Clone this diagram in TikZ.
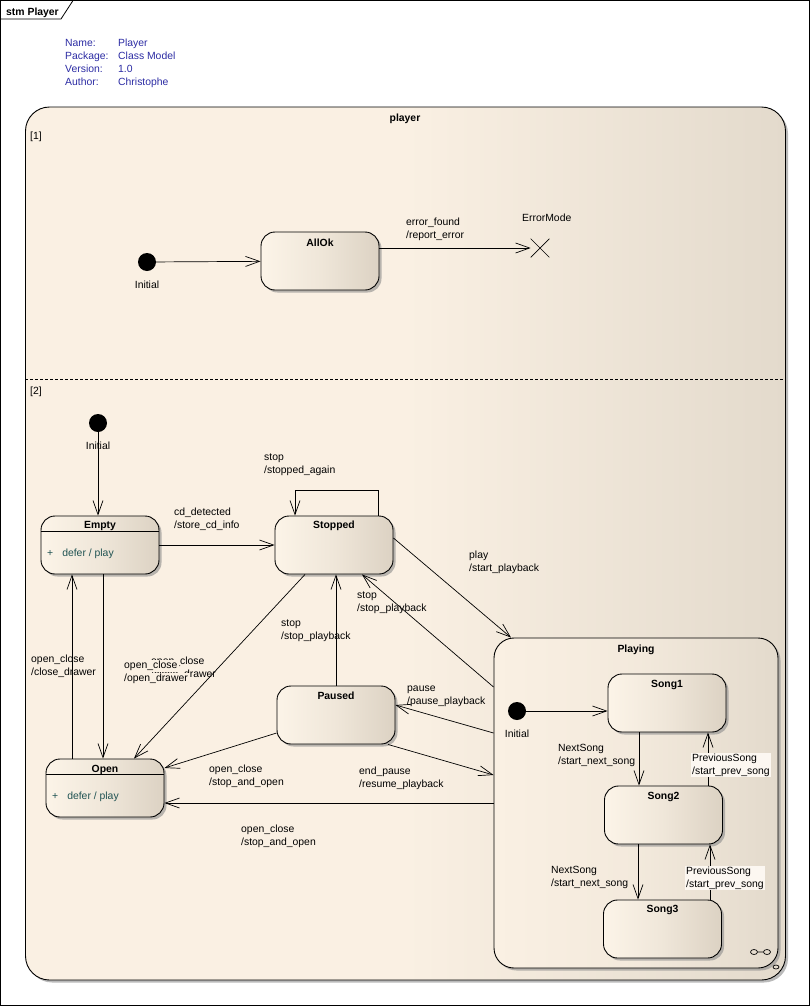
\documentclass[tikz,border=0pt]{standalone}
\usepackage{fontspec}
\setmainfont{Liberation Sans}
\usetikzlibrary{arrows.meta,shadows,shapes.misc}
\definecolor{bgL}{HTML}{FAF0E3}
\definecolor{bgR}{HTML}{E3DACC}
\definecolor{stL}{HTML}{FCF4E8}
\definecolor{stR}{HTML}{DCD2C3}
\definecolor{infoblue}{HTML}{2B2BA3}
\definecolor{deferc}{HTML}{1F5252}
\definecolor{lblbg}{HTML}{FCF7F1}
\setlength{\fboxsep}{1pt}

\begin{document}
\begin{tikzpicture}[x=1pt,y=-1pt,
    every node/.style={font=\fontsize{10.4}{13}\selectfont, inner sep=0pt},
    txt/.style={yshift=-1.5pt},
    shade/.style={drop shadow={shadow xshift=2.5pt, shadow yshift=-2.5pt, fill=black!45, opacity=.6}},
    state/.style={draw, line width=0.9pt, rounded corners=14pt, minimum width=118pt, minimum height=58pt,
      left color=stL, right color=stR, middle color=stL!60!stR, shade},
    title/.style={txt, font=\fontsize{10.4}{13}\selectfont\bfseries},
    lbl/.style={txt, align=left, anchor=west},
    init/.style={circle, fill=black, minimum size=18pt},
    tr/.style={line width=0.7pt, -{Straight Barb[length=14pt,width=10pt]}}]
  \useasboundingbox (0,0) rectangle (811,1007);
  \draw[line width=0.8pt] (0.5,0.5) rectangle (809.5,1005.5);
  \draw[line width=0.8pt] (0.5,19) -- (61,19) -- (73,0.5);
  \node[anchor=west, title] (frameT) at (6,11) {stm Player};
  \node[txt, anchor=north west, align=left, text=infoblue] (infoK) at (65,37.5) {Name:\\Package:\\Version:\\Author:};
  \node[txt, anchor=north west, align=left, text=infoblue] (infoV) at (118,37.5) {Player\\Class Model\\1.0\\Christophe};

  \node[draw, line width=0.9pt, rounded corners=24pt, minimum width=760pt, minimum height=873pt,
    left color=bgL, right color=bgR, middle color=bgL, shade] (player) at (405.5,543.5) {};
  \node[title] (playerT) at (405,117) {player};
  \node[txt, anchor=west] (reg1) at (30,135) {[1]};
  \node[txt, anchor=west] (reg2) at (30,390) {[2]};
  \draw[line width=0.7pt, dash pattern=on 3pt off 2pt] (player.west |- 0,379) -- (player.east |- 0,379);

  \node[init] (init1) at (147,262) {};
  \node[txt] (init1L) at (147,283) {Initial};
  \node[state] (allok) at (320,261) {};
  \node[title] (allokT) at (320,241) {AllOk};
  \node[cross out, draw, line width=0.7pt, minimum size=18pt] (err) at (540,248) {};
  \node[txt, anchor=west] (errL) at (522,216) {ErrorMode};
  \draw[tr] (init1) -- (allok);
  \draw[tr] (allok.east |- err) -- (err.west);
  \node[lbl] (errT) at (406,228) {error\_found\\/report\_error};

  \node[init] (init2) at (98,423) {};
  \node[txt] (init2L) at (98,444) {Initial};
  \node[state] (empty) at (100,545) {};
  \node[title] (emptyT) at (100,524) {Empty};
  \draw[line width=0.9pt] (empty.north west) ++(0,16) -- ++(118,0);
  \node[txt, anchor=west, text=deferc] (emptyA) at (47,552) {+\hspace{9pt}defer / play};
  \node[state] (stopped) at (334,545) {};
  \node[title] (stoppedT) at (334,524) {Stopped};
  \node[state] (open) at (105,788) {};
  \node[title] (openT) at (105,768) {Open};
  \draw[line width=0.9pt] (open.north west) ++(0,16) -- ++(118,0);
  \node[txt, anchor=west, text=deferc] (openA) at (52,795) {+\hspace{9pt}defer / play};
  \node[state] (paused) at (336,715) {};
  \node[title] (pausedT) at (336,694) {Paused};

  \node[draw, line width=0.9pt, rounded corners=20pt, minimum width=284pt, minimum height=330pt,
    left color=bgL, right color=bgR, middle color=bgL!70!bgR, shade] (playing) at (636,803) {};
  \node[title] (playingT) at (636,648) {Playing};
  \node[init] (init3) at (517,711) {};
  \node[txt] (init3L) at (517,732) {Initial};
  \node[state] (song1) at (667,703) {};
  \node[title] (song1T) at (667,683) {Song1};
  \node[state] (song2) at (663.5,815) {};
  \node[title] (song2T) at (663.5,795) {Song2};
  \node[state] (song3) at (662.5,929) {};
  \node[title] (song3T) at (662.5,908) {Song3};
  \draw[line width=0.7pt] (754,952) ellipse (3.5pt and 2.5pt) (767,952) ellipse (3.5pt and 2.5pt) (757.5,952) -- (763.5,952);
  \draw[line width=0.7pt] (776,967) ellipse (3pt and 2pt);

  \draw[tr] (init2) -- (init2 |- empty.north);
  \draw[tr] (empty) -- (stopped);
  \draw[tr] ([xshift=44pt]stopped.north) -- ++(0,-25) -| ([xshift=-39pt]stopped.north);
  \draw[tr] ([xshift=3pt]empty.south) -- ([xshift=3pt]empty.south |- open.north);
  \draw[tr] ([xshift=-33pt]open.north) -- ([xshift=-33pt]open.north |- empty.south);
  \draw[tr] ([xshift=-29pt]stopped.south) -- ([xshift=29pt]open.north);
  \draw[tr] (paused.north) -- (paused.north |- stopped.south);
  \draw[tr] ([yshift=-18pt]paused.west) -- ([yshift=20pt]open.east);
  \draw[tr] ([xshift=52pt]paused.south) -- ([yshift=28pt]playing.west);
  \draw[tr] ([yshift=70pt]playing.west) -- ([yshift=10pt]paused.east);
  \draw[tr] ([yshift=7pt]stopped.east) -- ([xshift=-125pt]playing.north);
  \draw[tr] ([yshift=116pt]playing.west) -- ([xshift=28pt]stopped.south);
  \draw[tr] (playing.west) -- (open.east |- playing.west);
  \draw[tr] (init3) -- (init3 -| song1.west);
  \draw[tr] ([xshift=-28pt]song1.south) -- ([xshift=-28pt]song1.south |- song2.north);
  \draw[tr] ([xshift=44.5pt]song2.north) -- ([xshift=44.5pt]song2.north |- song1.south);
  \draw[tr] ([xshift=-25.5pt]song2.south) -- ([xshift=-25.5pt]song2.south |- song3.north);
  \draw[tr] ([xshift=47.5pt]song3.north) -- ([xshift=47.5pt]song3.north |- song2.south);

  \node[lbl] (loopT) at (264,463.5) {stop\\/stopped\_again};
  \node[lbl] (cdT) at (174,517.5) {cd\_detected\\/store\_cd\_info};
  \node[lbl] (playT) at (469,560.5) {play\\/start\_playback};
  \node[lbl] (stop1T) at (357,601.5) {stop\\/stop\_playback};
  \node[lbl] (stop2T) at (281,629.5) {stop\\/stop\_playback};
  \node[lbl] (closeT) at (31,665) {open\_close\\/close\_drawer};
  \node[lbl] (hidT) at (151,667) {open\_close\\/close\_drawer};
  \node[lbl] (drawerT) at (123,671) {\colorbox{bgL}{open\_close\hspace{1pt}}\\\colorbox{bgL}{/open\_drawer\hspace{1pt}}};
  \node[lbl] (pauseT) at (407,694.5) {pause\\/pause\_playback};
  \node[lbl] (sao1T) at (209,774.5) {open\_close\\/stop\_and\_open};
  \node[lbl] (resumeT) at (359,776.5) {end\_pause\\/resume\_playback};
  \node[lbl] (sao2T) at (241,834.5) {open\_close\\/stop\_and\_open};
  \node[lbl] (next1T) at (558,753.5) {NextSong\\/start\_next\_song};
  \node[lbl, fill=lblbg, inner sep=1pt] (prev1T) at (691,763.5) {PreviousSong\\/start\_prev\_song};
  \node[lbl] (next2T) at (551,875.5) {NextSong\\/start\_next\_song};
  \node[lbl, fill=lblbg, inner sep=1pt] (prev2T) at (685,876.5) {PreviousSong\\/start\_prev\_song};
\end{tikzpicture}
\end{document}
